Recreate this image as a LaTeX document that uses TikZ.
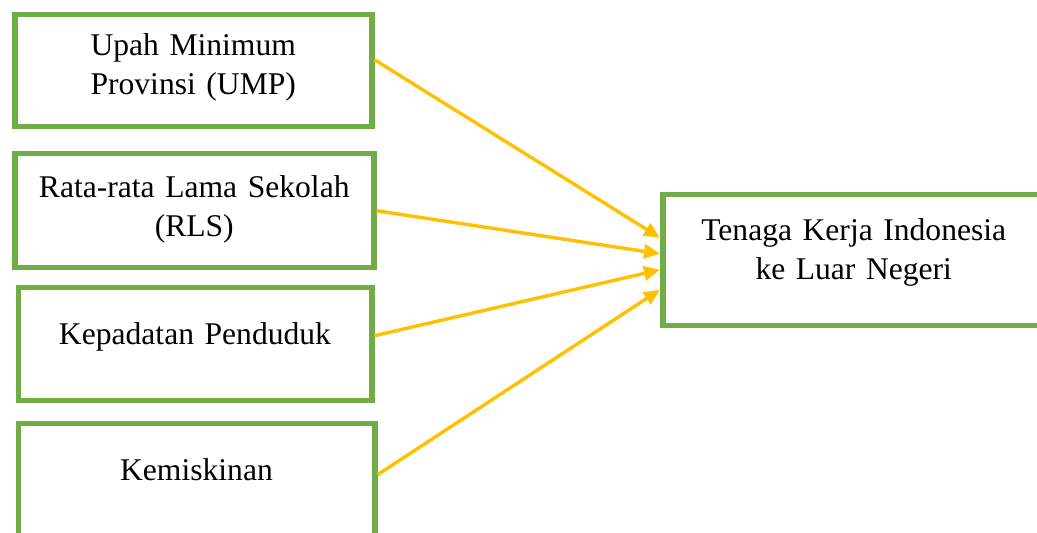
\documentclass[tikz,border=0pt]{standalone}
\usepackage{fontspec}
\setmainfont{Liberation Serif}
\usetikzlibrary{arrows.meta}
\definecolor{boxgreen}{HTML}{70AD47}
\definecolor{arrowgold}{HTML}{FFC000}

\begin{document}
\begin{tikzpicture}[>={Triangle[length=8pt,width=7pt]},
	varbox/.style={draw=boxgreen, line width=2.75pt, inner sep=0pt, anchor=north west, align=center, font=\fontsize{15.8pt}{19.5pt}\selectfont},
	link/.style={->, arrowgold, line width=1.7pt}]
	
	% Fix the canvas
	\useasboundingbox (0,0) rectangle (518.5pt,-266.5pt);
	
	% Draw the variable boxes
	\node[varbox, text width=178.5pt, text height=20.5pt, text depth=35.5pt] (ump) at (6pt,-6pt) {Upah Minimum\\Provinsi (UMP)};
	\node[varbox, text width=179.5pt, text height=22pt, text depth=35pt] (rls) at (6pt,-75.5pt) {Rata-rata Lama Sekolah\\(RLS)};
	\node[varbox, text width=176.75pt, text height=28.5pt, text depth=28pt] (kepadatan) at (7.75pt,-142.5pt) {Kepadatan Penduduk};
	\node[varbox, text width=178.25pt, text height=28.5pt, text depth=28.5pt] (kemiskinan) at (7.75pt,-210.5pt) {Kemiskinan};
	
	% Draw the target box
	\node[varbox, text width=191pt, text height=23pt, text depth=42.5pt] (tki) at (330pt,-96pt) {Tenaga Kerja Indonesia\\ke Luar Negeri};
	
	% Draw the arrows
	\draw[link] ([yshift=5.5pt]ump.east) -- ([yshift=11.25pt]tki.west);
	\draw[link] (rls.east) -- ([yshift=3.25pt]tki.west);
	\draw[link] ([yshift=4.25pt]kepadatan.east) -- ([yshift=-4.75pt]tki.west);
	\draw[link] ([yshift=3pt]kemiskinan.east) -- ([yshift=-14.75pt]tki.west);
	
\end{tikzpicture}
\end{document}
